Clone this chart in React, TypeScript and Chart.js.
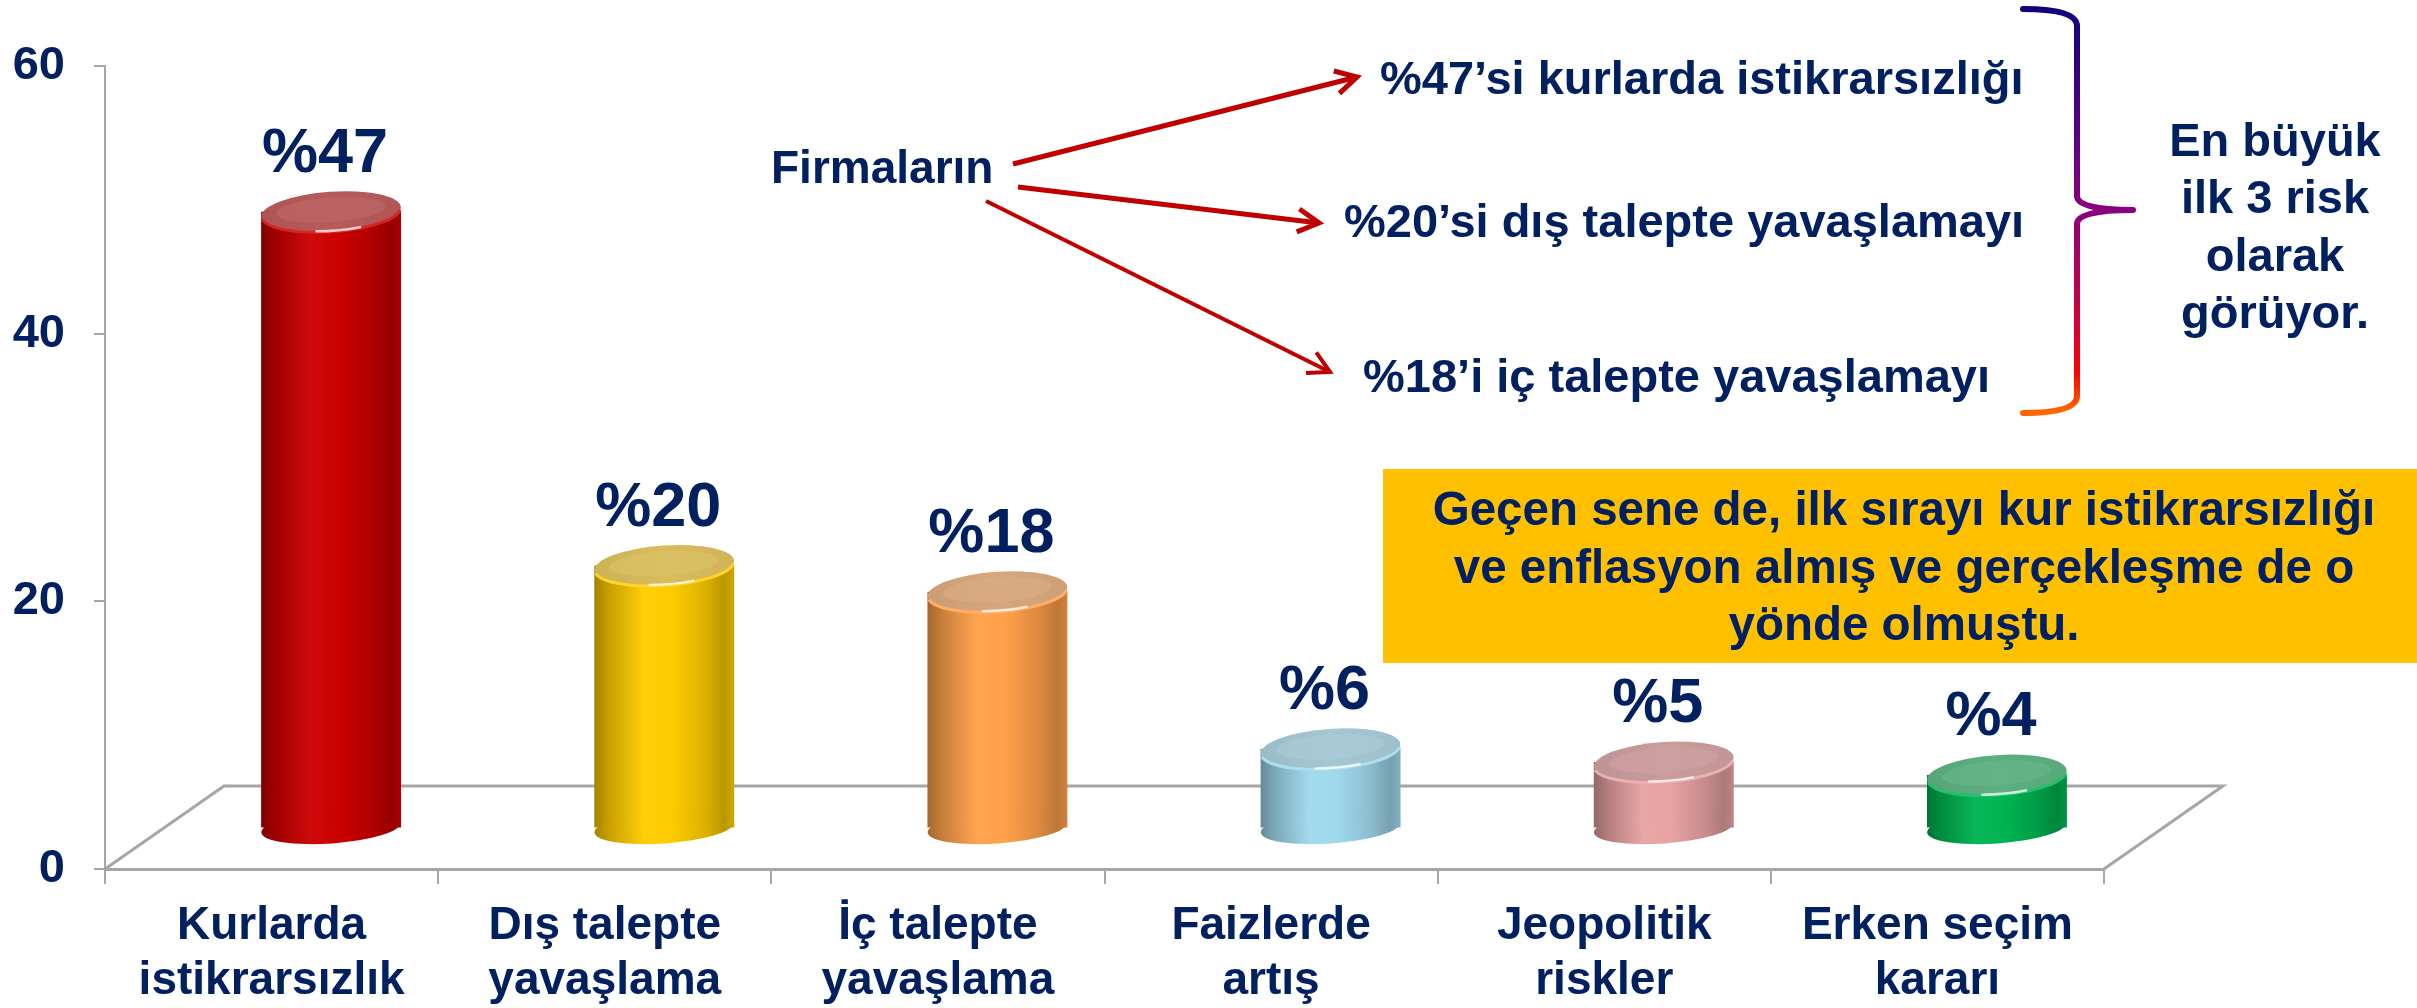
import React, { useEffect, useRef } from 'react';
import { Chart, registerables } from 'chart.js';

Chart.register(...registerables);

// ---------------- data ----------------
const categories: string[][] = [
  ['Kurlarda', 'istikrarsızlık'],
  ['Dış talepte', 'yavaşlama'],
  ['İç talepte', 'yavaşlama'],
  ['Faizlerde', 'artış'],
  ['Jeopolitik', 'riskler'],
  ['Erken seçim', 'kararı'],
];
const values: number[] = [47, 20, 18, 6, 5, 4];
const valueLabels: string[] = ['%47', '%20', '%18', '%6', '%5', '%4'];
const yTicks: number[] = [0, 20, 40, 60];
const calloutSource = 'Firmaların';
const calloutItems: string[] = [
  '%47’si kurlarda istikrarsızlığı',
  '%20’si dış talepte yavaşlamayı',
  '%18’i iç talepte yavaşlamayı',
];
const summaryLines: string[] = ['En büyük', 'ilk 3 risk', 'olarak', 'görüyor.'];
const noteLines: string[] = [
  'Geçen sene de, ilk sırayı kur istikrarsızlığı',
  've enflasyon almış ve gerçekleşme de o',
  'yönde olmuştu.',
];

// ---------------- styles ----------------
const FONT = '"Liberation Sans", Arial, Helvetica, sans-serif';
const NAVY = '#002060';
const GRID = '#A6A6A6';
const ARROW = '#C00000';
const NOTE_BG = '#FFC000';
const BAR_CENTER = ['#CC0000', '#FFCC00', '#FFA04A', '#9FD8EC', '#E8A2A2', '#00B452'];
const BAR_TOP = ['#B85A5A', '#D9BC5C', '#D8A67C', '#A5C7D3', '#CA9C9C', '#5CAF80'];
const DEPTH_X = 119;
const DEPTH_Y = 83;
const BAR_FRACTION = 0.42;
const TOP_RY = 20;
const BOTTOM_RY = 16;
const TILT = -0.07;

function hexToRgb(h: string): number[] {
  const n = parseInt(h.slice(1), 16);
  return [(n >> 16) & 255, (n >> 8) & 255, n & 255];
}
function mix(h: string, target: number[], t: number): string {
  const c = hexToRgb(h);
  const r = c.map((v, i) => Math.round(v + (target[i] - v) * t));
  return `rgb(${r[0]},${r[1]},${r[2]})`;
}
const dark = (h: string, t: number) => mix(h, [0, 0, 0], t);
const light = (h: string, t: number) => mix(h, [255, 255, 255], t);

function bodyGradientAt(ctx: CanvasRenderingContext2D, cx: number, w: number, color: string) {
  const g = ctx.createLinearGradient(cx - w / 2, 0, cx + w / 2, 0);
  g.addColorStop(0, dark(color, 0.36));
  g.addColorStop(0.1, dark(color, 0.22));
  g.addColorStop(0.35, light(color, 0.04));
  g.addColorStop(0.55, color);
  g.addColorStop(0.8, dark(color, 0.14));
  g.addColorStop(0.93, dark(color, 0.26));
  g.addColorStop(1, dark(color, 0.18));
  return g;
}

function bodyGradient(c: any) {
  const chart = c.chart;
  const i = c.dataIndex ?? 0;
  const xs = chart.scales?.x;
  if (!xs || c.type !== 'data' || !xs.width) return BAR_CENTER[i % BAR_CENTER.length];
  const cx = xs.getPixelForValue(i);
  const w = (xs.width / values.length) * BAR_FRACTION;
  return bodyGradientAt(chart.ctx, cx, w, BAR_CENTER[i]);
}

const cylinderPlugin = {
  id: 'cylinders3d',
  beforeDatasetsDraw(chart: any) {
    const { ctx, chartArea } = chart;
    const { left, right, bottom } = chartArea;
    ctx.save();
    ctx.strokeStyle = GRID;
    ctx.lineWidth = 3;
    ctx.beginPath();
    ctx.moveTo(left, bottom);
    ctx.lineTo(left + DEPTH_X, bottom - DEPTH_Y);
    ctx.lineTo(right + DEPTH_X, bottom - DEPTH_Y);
    ctx.lineTo(right, bottom);
    ctx.stroke();
    ctx.restore();
    ctx.save();
    ctx.translate(DEPTH_X / 2, -DEPTH_Y / 2);
  },
  afterDatasetsDraw(chart: any) {
    const ctx: CanvasRenderingContext2D = chart.ctx;
    const meta = chart.getDatasetMeta(0);
    meta.data.forEach((bar: any, i: number) => {
      const { x, y, base, width } = bar.getProps(['x', 'y', 'base', 'width'], true);
      const rx = width / 2;
      // bottom cap
      ctx.save();
      ctx.translate(x, base);
      ctx.rotate(TILT);
      ctx.beginPath();
      ctx.ellipse(0, 0, rx, BOTTOM_RY, 0, 0, Math.PI * 2);
      ctx.fillStyle = bodyGradientAt(ctx, 0, width, BAR_CENTER[i]);
      ctx.fill();
      ctx.restore();
      // top cap
      ctx.save();
      ctx.translate(x, y);
      ctx.rotate(TILT);
      ctx.beginPath();
      ctx.ellipse(0, 0, rx, TOP_RY, 0, 0, Math.PI * 2);
      const tg = ctx.createLinearGradient(-rx, 0, rx, 0);
      tg.addColorStop(0, dark(BAR_TOP[i], 0.06));
      tg.addColorStop(0.5, BAR_TOP[i]);
      tg.addColorStop(1, dark(BAR_TOP[i], 0.04));
      ctx.fillStyle = tg;
      ctx.fill();
      ctx.beginPath();
      ctx.ellipse(0, -2, rx * 0.78, TOP_RY * 0.62, 0, 0, Math.PI * 2);
      ctx.fillStyle = light(BAR_TOP[i], 0.08);
      ctx.globalAlpha = 0.6;
      ctx.fill();
      ctx.globalAlpha = 1;
      // front rim
      ctx.beginPath();
      ctx.ellipse(0, 0, rx, TOP_RY, 0, 0.05 * Math.PI, 0.95 * Math.PI);
      ctx.strokeStyle = light(BAR_CENTER[i], 0.15);
      ctx.lineWidth = 3;
      ctx.stroke();
      ctx.beginPath();
      ctx.ellipse(0, 0, rx * 0.97, TOP_RY * 0.95, 0, 0.36 * Math.PI, 0.58 * Math.PI);
      ctx.strokeStyle = 'rgba(255,255,255,0.75)';
      ctx.lineWidth = 2.5;
      ctx.stroke();
      ctx.restore();
    });
    ctx.restore();

    // value labels
    ctx.save();
    ctx.fillStyle = NAVY;
    ctx.font = `bold 63px ${FONT}`;
    ctx.textAlign = 'center';
    ctx.textBaseline = 'alphabetic';
    meta.data.forEach((bar: any, i: number) => {
      const { x, y } = bar.getProps(['x', 'y'], true);
      ctx.fillText(valueLabels[i], x + DEPTH_X / 2 - 6, y - DEPTH_Y / 2 - TOP_RY - 20);
    });
    ctx.restore();
  },
};

function drawArrow(ctx: CanvasRenderingContext2D, x1: number, y1: number, x2: number, y2: number, lw: number) {
  const ang = Math.atan2(y2 - y1, x2 - x1);
  ctx.save();
  ctx.strokeStyle = ARROW;
  ctx.lineWidth = lw;
  ctx.lineCap = 'butt';
  ctx.beginPath();
  ctx.moveTo(x1, y1);
  ctx.lineTo(x2, y2);
  ctx.stroke();
  const hl = 24;
  const ha = 0.5;
  ctx.lineJoin = 'miter';
  ctx.beginPath();
  ctx.moveTo(x2 - hl * Math.cos(ang - ha), y2 - hl * Math.sin(ang - ha));
  ctx.lineTo(x2, y2);
  ctx.lineTo(x2 - hl * Math.cos(ang + ha), y2 - hl * Math.sin(ang + ha));
  ctx.stroke();
  ctx.restore();
}

const annotationPlugin = {
  id: 'annotations',
  afterDraw(chart: any) {
    const ctx: CanvasRenderingContext2D = chart.ctx;
    ctx.save();
    const f = `bold 46px ${FONT}`;
    ctx.font = f;
    ctx.fillStyle = NAVY;
    ctx.textBaseline = 'alphabetic';

    // source label
    ctx.textAlign = 'left';
    ctx.fillText(calloutSource, 771, 183);

    // callout items
    const itemPos = [
      [1380, 94],
      [1344, 237],
      [1363, 392],
    ];
    ctx.font = `bold 47px ${FONT}`;
    calloutItems.forEach((t, i) => ctx.fillText(t, itemPos[i][0], itemPos[i][1]));

    // arrows
    drawArrow(ctx, 1013, 164, 1357, 77, 5);
    drawArrow(ctx, 1018, 187, 1319, 223, 5);
    drawArrow(ctx, 986, 201, 1330, 372, 4);

    // brace
    const bg = ctx.createLinearGradient(0, 8, 0, 413);
    bg.addColorStop(0, '#10007C');
    bg.addColorStop(0.5, '#8A007E');
    bg.addColorStop(0.78, '#D8003A');
    bg.addColorStop(0.9, '#FF0000');
    bg.addColorStop(1, '#FF6A00');
    ctx.strokeStyle = bg;
    ctx.lineWidth = 6;
    ctx.lineCap = 'round';
    ctx.lineJoin = 'round';
    ctx.beginPath();
    ctx.moveTo(2023, 9);
    ctx.quadraticCurveTo(2077, 9, 2077, 26);
    ctx.lineTo(2077, 196);
    ctx.quadraticCurveTo(2077, 210, 2133, 210);
    ctx.quadraticCurveTo(2077, 210, 2077, 224);
    ctx.lineTo(2077, 396);
    ctx.quadraticCurveTo(2077, 413, 2023, 413);
    ctx.stroke();

    // summary text
    ctx.fillStyle = NAVY;
    ctx.font = `bold 47px ${FONT}`;
    ctx.textAlign = 'center';
    summaryLines.forEach((t, i) => ctx.fillText(t, 2275, 156 + i * 57.3));

    // note box
    ctx.fillStyle = NOTE_BG;
    ctx.fillRect(1383, 469, 2417 - 1383, 194);
    ctx.fillStyle = NAVY;
    ctx.font = `bold 47.5px ${FONT}`;
    noteLines.forEach((t, i) => ctx.fillText(t, 1904, 525 + i * 57.5));
    ctx.restore();
  },
};

export default function App() {
  const ref = useRef<HTMLCanvasElement>(null);
  useEffect(() => {
    document.body.style.margin = '0';
    const canvas = ref.current;
    if (!canvas) return;
    const tickFont = { family: FONT, size: 46, weight: 'bold' as const, lineHeight: 1.2 };
    const chart = new Chart(canvas, {
      type: 'bar',
      data: {
        labels: categories as any,
        datasets: [
          {
            data: values,
            yAxisID: 'y2',
            backgroundColor: bodyGradient as any,
            borderWidth: 0,
            barPercentage: BAR_FRACTION,
            categoryPercentage: 1,
            clip: false as any,
          },
        ],
      },
      options: {
        animation: false,
        responsive: false,
        devicePixelRatio: 1,
        events: [],
        layout: { padding: { left: 0, right: 313, top: 66, bottom: 0 } },
        plugins: { legend: { display: false }, tooltip: { enabled: false } },
        scales: {
          x: {
            grid: {
              display: true,
              drawOnChartArea: false,
              drawTicks: true,
              tickLength: 15,
              color: GRID,
              lineWidth: 2,
              offset: true,
            },
            border: { display: true, color: GRID, width: 3 },
            ticks: { color: NAVY, font: tickFont, padding: 15, maxRotation: 0, autoSkip: false },
            afterFit: (s: any) => {
              s.height = 139;
            },
          },
          y: {
            min: 0,
            max: 60,
            grid: { drawOnChartArea: false, drawTicks: true, tickLength: 11, color: GRID, lineWidth: 2 },
            border: { display: true, color: GRID, width: 2 },
            ticks: { color: NAVY, font: { ...tickFont, size: 47, lineHeight: 1 }, padding: 29 },
            afterBuildTicks: (s: any) => {
              s.ticks = yTicks.map((v) => ({ value: v }));
            },
            afterFit: (s: any) => {
              s.width = 105;
            },
          },
          y2: { display: false, min: 0, max: 61.3 },
        },
      },
      plugins: [cylinderPlugin, annotationPlugin],
    });
    return () => chart.destroy();
  }, []);
  return (
    <div style={{ width: 2417, height: 1008, overflow: 'hidden' }}>
      <canvas ref={ref} width={2417} height={1008} style={{ display: 'block' }} />
    </div>
  );
}
